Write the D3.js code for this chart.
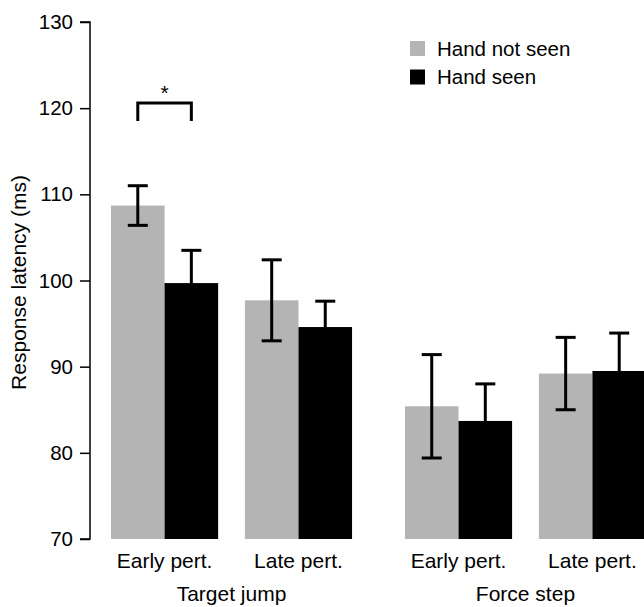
<!DOCTYPE html>
<html>
<head>
<meta charset="utf-8">
<script src="https://cdn.jsdelivr.net/npm/d3@7"></script>
<style>
  body { margin: 0; background: #fff; }
  svg { display: block; font-family: "Liberation Sans", Arial, sans-serif; }
</style>
</head>
<body>
<div id="chart"></div>
<script>
// data
const groups = ['Target jump', 'Force step'];
const conditions = ['Early pert.', 'Late pert.'];
const series = ['Hand not seen', 'Hand seen'];
const seriesColors = ['#b4b4b4', '#000000'];
// means and error bars, order: TJ early, TJ late, FS early, FS late
const notSeenMean = [108.7, 97.7, 85.4, 89.2];
const notSeenErr = [2.3, 4.7, 6.0, 4.2];
const seenMean = [99.7, 94.6, 83.7, 89.5];
const seenErr = [3.8, 3.0, 4.3, 4.4];
const yTicks = [70, 80, 90, 100, 110, 120, 130];
// significance bracket
const sigMarks = [{ group: 'Target jump', condition: 'Early pert.', top: 120.6, foot: 118.5, label: '*' }];

const width = 644;
const height = 607;
const margin = { top: 22, left: 90, bottom: 68 };

const rows = [];
groups.forEach((g, gi) => {
  conditions.forEach((c, ci) => {
    const i = gi * 2 + ci;
    rows.push({ group: g, condition: c, series: series[0], mean: notSeenMean[i], err: notSeenErr[i] });
    rows.push({ group: g, condition: c, series: series[1], mean: seenMean[i], err: seenErr[i] });
  });
});

const svg = d3.select('#chart')
  .append('svg')
  .attr('width', width)
  .attr('height', height);

const y = d3.scaleLinear().domain([70, 130]).range([height - margin.bottom, margin.top]);

const xGroup = d3.scaleBand().domain(groups).range([111, 646]).paddingInner(0.18);
const xCond = d3.scaleBand().domain(conditions).range([0, xGroup.bandwidth()]).paddingInner(0.2);
const xSeries = d3.scaleBand().domain(series).range([0, xCond.bandwidth()]);
const color = d3.scaleOrdinal().domain(series).range(seriesColors);

const barX = (d) => xGroup(d.group) + xCond(d.condition) + xSeries(d.series);
const barMid = (d) => barX(d) + xSeries.bandwidth() / 2;

// bars
svg.append('g')
  .selectAll('rect')
  .data(rows)
  .join('rect')
  .attr('x', barX)
  .attr('y', (d) => y(d.mean))
  .attr('width', xSeries.bandwidth())
  .attr('height', (d) => y(70) - y(d.mean))
  .attr('fill', (d) => color(d.series));

// error bars
const capW = 10;
const err = svg.append('g')
  .attr('stroke', '#000')
  .attr('stroke-width', 3)
  .selectAll('g')
  .data(rows)
  .join('g');

err.append('line')
  .attr('x1', barMid).attr('x2', barMid)
  .attr('y1', (d) => y(d.mean - d.err))
  .attr('y2', (d) => y(d.mean + d.err));

err.append('line')
  .attr('x1', (d) => barMid(d) - capW).attr('x2', (d) => barMid(d) + capW)
  .attr('y1', (d) => y(d.mean + d.err)).attr('y2', (d) => y(d.mean + d.err));

err.append('line')
  .attr('x1', (d) => barMid(d) - capW).attr('x2', (d) => barMid(d) + capW)
  .attr('y1', (d) => y(d.mean - d.err)).attr('y2', (d) => y(d.mean - d.err));

// y axis
const yAxis = d3.axisLeft(y).tickValues(yTicks).tickSize(10).tickPadding(7);
const yg = svg.append('g')
  .attr('transform', `translate(${margin.left},0)`)
  .call(yAxis);
yg.select('.domain').attr('d', `M-10,${y(130)}H0V${y(70)}H-10`).attr('stroke-width', 1.5);
yg.selectAll('.tick line').attr('stroke-width', 1.5);
yg.selectAll('.tick text')
  .attr('font-size', 20.5)
  .attr('fill', '#000')
  .attr('font-family', '"Liberation Sans", Arial, sans-serif');

svg.append('text')
  .attr('transform', `translate(26,${(y(70) + y(130)) / 2 + 2}) rotate(-90)`)
  .attr('text-anchor', 'middle')
  .attr('font-size', 21)
  .text('Response latency (ms)');

// category labels
const catLabels = [];
groups.forEach((g) => conditions.forEach((c) => catLabels.push({ group: g, condition: c })));
svg.append('g')
  .selectAll('text')
  .data(catLabels)
  .join('text')
  .attr('x', (d) => xGroup(d.group) + xCond(d.condition) + xCond.bandwidth() / 2)
  .attr('y', 568)
  .attr('text-anchor', 'middle')
  .attr('font-size', 21)
  .text((d) => d.condition);

svg.append('g')
  .selectAll('text')
  .data(groups)
  .join('text')
  .attr('x', (d) => xGroup(d) + xGroup.bandwidth() / 2)
  .attr('y', 601)
  .attr('text-anchor', 'middle')
  .attr('font-size', 21)
  .text((d) => d);

// significance
sigMarks.forEach((s) => {
  const x0 = xGroup(s.group) + xCond(s.condition) + xSeries(series[0]) + xSeries.bandwidth() / 2;
  const x1 = xGroup(s.group) + xCond(s.condition) + xSeries(series[1]) + xSeries.bandwidth() / 2;
  svg.append('path')
    .attr('d', `M${x0},${y(s.foot)}V${y(s.top)}H${x1}V${y(s.foot)}`)
    .attr('fill', 'none')
    .attr('stroke', '#000')
    .attr('stroke-width', 3);
  svg.append('text')
    .attr('x', (x0 + x1) / 2)
    .attr('y', y(s.top) - 3)
    .attr('text-anchor', 'middle')
    .attr('font-size', 21)
    .text(s.label);
});

// legend
const legend = svg.append('g')
  .selectAll('g')
  .data(series)
  .join('g')
  .attr('transform', (d, i) => `translate(410,${41 + i * 28.5})`);
legend.append('rect')
  .attr('width', 15).attr('height', 15)
  .attr('fill', (d) => color(d));
legend.append('text')
  .attr('x', 27)
  .attr('y', 14.5)
  .attr('font-size', 20.5)
  .text((d) => d);
</script>
</body>
</html>
